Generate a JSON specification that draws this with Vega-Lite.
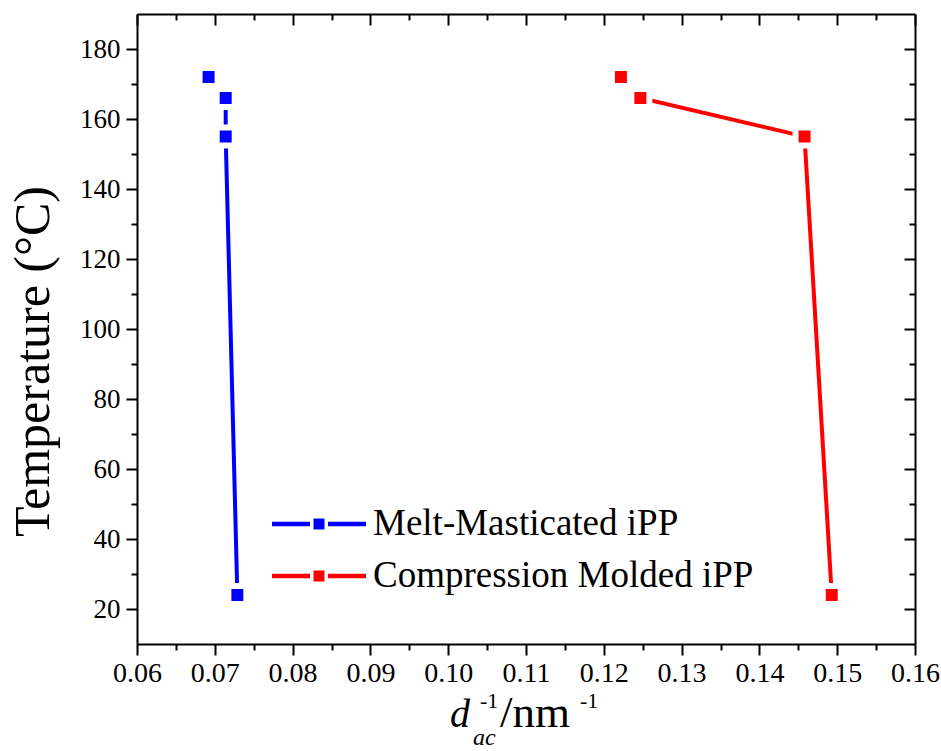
{
  "$schema": "https://vega.github.io/schema/vega-lite/v6.json",
  "width": 778,
  "height": 630,
  "autosize": {"type": "none"},
  "padding": {"left": 137, "top": 14, "right": 26, "bottom": 107},
  "background": "white",
  "config": {
    "font": "Liberation Serif",
    "view": {"stroke": null},
    "axis": {"grid": false, "domainColor": "black", "domainWidth": 2, "tickColor": "black", "tickWidth": 2, "labelColor": "black", "labelFont": "Liberation Serif", "titleFont": "Liberation Serif", "titleColor": "black", "titleFontWeight": "normal"},
    "legend": {"padding": 0}
  },
  "datasets": {
    "series": [
      {"sample": "Melt-Masticated iPP", "d": 0.0692, "T": 172},
      {"sample": "Melt-Masticated iPP", "d": 0.0714, "T": 166},
      {"sample": "Melt-Masticated iPP", "d": 0.0714, "T": 155},
      {"sample": "Melt-Masticated iPP", "d": 0.0729, "T": 24},
      {"sample": "Compression Molded iPP", "d": 0.1222, "T": 172},
      {"sample": "Compression Molded iPP", "d": 0.1247, "T": 166},
      {"sample": "Compression Molded iPP", "d": 0.1458, "T": 155},
      {"sample": "Compression Molded iPP", "d": 0.1493, "T": 24}
    ]
  },
  "layer": [
    {
      "data": {"name": "series"},
      "mark": {"type": "line", "strokeWidth": 4},
      "encoding": {
        "x": {"field": "d", "type": "quantitative", "scale": {"domain": [0.06, 0.16], "nice": false, "zero": false},
          "axis": {"orient": "bottom", "title": null, "values": [0.06,0.065,0.07,0.075,0.08,0.085,0.09,0.095,0.1,0.105,0.11,0.115,0.12,0.125,0.13,0.135,0.14,0.145,0.15,0.155,0.16],
            "labelExpr": "round(datum.value*200)%2==0 ? format(datum.value,'.2f') : ''",
            "tickSize": {"condition": {"test": "round(datum.value*200)%2==1", "value": 6}, "value": 11},
            "labelFontSize": 28, "labelPadding": 4, "labelFlush": false, "labelOverlap": false}},
        "y": {"field": "T", "type": "quantitative", "scale": {"domain": [10, 190], "nice": false, "zero": false},
          "axis": {"orient": "left", "title": "Temperature (°C)", "titleFontSize": 50, "titlePadding": 21, "titleY": 347,
            "values": [20,30,40,50,60,70,80,90,100,110,120,130,140,150,160,170,180],
            "labelExpr": "datum.value % 20 == 0 ? datum.label : ''",
            "tickSize": {"condition": {"test": "datum.value % 20 != 0", "value": 6}, "value": 11},
            "labelFontSize": 27, "labelPadding": 6, "labelOverlap": false}},
        "color": {"field": "sample", "type": "nominal",
          "scale": {"domain": ["Melt-Masticated iPP", "Compression Molded iPP"], "range": ["#0000FF", "#FF0000"]},
          "legend": {"orient": "none", "legendX": 148.5, "legendY": 476.5, "title": null, "labelFontSize": 37, "labelFont": "Liberation Serif", "labelColor": "black", "labelLimit": 0,
            "symbolType": "M-1.403,-0.066H-0.269V0.066H-1.403Z M-0.164,-0.164H0.164V0.164H-0.164Z M0.269,-0.066H1.403V0.066H0.269Z",
            "symbolSize": 4489, "symbolStrokeWidth": 0, "labelOffset": 20.5, "rowPadding": 0,
            "encode": {"symbols": {"update": {"fill": {"scale": "color", "field": "value"}, "stroke": {"value": "transparent"}, "strokeWidth": {"value": 0}, "opacity": {"value": 1}}}}}},
        "order": {"field": "T", "sort": "descending"}
      }
    },
    {
      "data": {"name": "series"},
      "mark": {"type": "point", "shape": "square", "filled": true, "size": 324, "stroke": "white", "strokeWidth": 6, "opacity": 1},
      "encoding": {
        "x": {"field": "d", "type": "quantitative", "axis": null},
        "y": {"field": "T", "type": "quantitative", "axis": null},
        "color": {"field": "sample", "type": "nominal",
          "legend": {"orient": "none", "legendX": 148.5, "legendY": 476.5, "title": null, "labelFontSize": 37, "labelFont": "Liberation Serif", "labelColor": "black", "labelLimit": 0,
            "symbolType": "M-1.403,-0.066H-0.269V0.066H-1.403Z M-0.164,-0.164H0.164V0.164H-0.164Z M0.269,-0.066H1.403V0.066H0.269Z",
            "symbolSize": 4489, "symbolStrokeWidth": 0, "labelOffset": 20.5, "rowPadding": 0,
            "encode": {"symbols": {"update": {"fill": {"scale": "color", "field": "value"}, "stroke": {"value": "transparent"}, "strokeWidth": {"value": 0}, "opacity": {"value": 1}}}}}}
      }
    },
    {
      "data": {"name": "series"},
      "mark": {"type": "point", "opacity": 0},
      "encoding": {
        "x": {"field": "d", "type": "quantitative",
          "axis": {"orient": "top", "title": null, "labels": false, "values": [0.06,0.065,0.07,0.075,0.08,0.085,0.09,0.095,0.1,0.105,0.11,0.115,0.12,0.125,0.13,0.135,0.14,0.145,0.15,0.155,0.16],
            "tickSize": {"condition": {"test": "round(datum.value*200)%2==1", "value": -6}, "value": -11}}},
        "y": {"field": "T", "type": "quantitative",
          "axis": {"orient": "right", "title": null, "labels": false, "values": [20,30,40,50,60,70,80,90,100,110,120,130,140,150,160,170,180],
            "tickSize": {"condition": {"test": "datum.value % 20 != 0", "value": -6}, "value": -11}}}
      }
    },
    {
      "data": {"values": [{}]},
      "mark": {"type": "text", "align": "left", "baseline": "alphabetic", "fontSize": 40, "fontStyle": "italic", "color": "black", "font": "Liberation Serif"},
      "encoding": {"x": {"datum": 0.10023, "type": "quantitative", "axis": null}, "y": {"datum": -13.7, "type": "quantitative", "axis": null}, "text": {"value": "d"}}
    },
    {
      "data": {"values": [{}]},
      "mark": {"type": "text", "align": "left", "baseline": "alphabetic", "fontSize": 22, "color": "black", "font": "Liberation Serif"},
      "encoding": {"x": {"datum": 0.10409, "type": "quantitative", "axis": null}, "y": {"datum": -8.3, "type": "quantitative", "axis": null}, "text": {"value": "-1"}}
    },
    {
      "data": {"values": [{}]},
      "mark": {"type": "text", "align": "left", "baseline": "alphabetic", "fontSize": 24, "fontStyle": "italic", "color": "black", "font": "Liberation Serif"},
      "encoding": {"x": {"datum": 0.10319, "type": "quantitative", "axis": null}, "y": {"datum": -18.9, "type": "quantitative", "axis": null}, "text": {"value": "ac"}}
    },
    {
      "data": {"values": [{}]},
      "mark": {"type": "text", "align": "left", "baseline": "alphabetic", "fontSize": 45, "color": "black", "font": "Liberation Serif"},
      "encoding": {"x": {"datum": 0.10666, "type": "quantitative", "axis": null}, "y": {"datum": -13.7, "type": "quantitative", "axis": null}, "text": {"value": "/nm"}}
    },
    {
      "data": {"values": [{}]},
      "mark": {"type": "text", "align": "left", "baseline": "alphabetic", "fontSize": 22, "color": "black", "font": "Liberation Serif"},
      "encoding": {"x": {"datum": 0.11694, "type": "quantitative", "axis": null}, "y": {"datum": -8.3, "type": "quantitative", "axis": null}, "text": {"value": "-1"}}
    }
  ],
  "resolve": {"axis": {"x": "independent", "y": "independent"}}
}
